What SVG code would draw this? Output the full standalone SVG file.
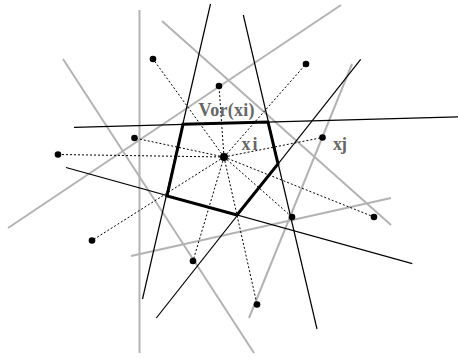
<svg xmlns="http://www.w3.org/2000/svg" width="458" height="358" viewBox="0 0 458 358">
<style>
.g{stroke:#b3b3b3;stroke-width:2;fill:none}
.b{stroke:#000;stroke-width:1.2;fill:none}
.d{stroke:#000;stroke-width:1;stroke-dasharray:2,2;fill:none}
.p{fill:#000}
.t{font-family:"Liberation Serif",serif;font-weight:bold;font-size:18px;fill:#666}
</style>
<rect width="458" height="358" fill="#fff"/>
<g id="gray-lines">
<line class="g" x1="139.5" y1="10" x2="139.5" y2="353"/>
<line class="g" x1="63" y1="59" x2="254" y2="353"/>
<line class="g" x1="162" y1="21" x2="391" y2="225"/>
<line class="g" x1="341" y1="5" x2="8" y2="228"/>
<line class="g" x1="352" y1="64" x2="249" y2="318"/>
<line class="g" x1="131" y1="256" x2="391" y2="198"/>
</g>
<g id="connectors">
<line class="d" x1="224" y1="157" x2="153" y2="59"/>
<line class="d" x1="224" y1="157" x2="219" y2="86"/>
<line class="d" x1="224" y1="157" x2="306" y2="64"/>
<line class="d" x1="224" y1="157" x2="134.5" y2="138"/>
<line class="d" x1="224" y1="157" x2="58" y2="154.5"/>
<line class="d" x1="224" y1="157" x2="322.5" y2="137.5"/>
<line class="d" x1="224" y1="157" x2="374" y2="217"/>
<line class="d" x1="224" y1="157" x2="292" y2="217"/>
<line class="d" x1="224" y1="157" x2="257" y2="304.5"/>
<line class="d" x1="224" y1="157" x2="193" y2="261"/>
<line class="d" x1="224" y1="157" x2="92" y2="240.5"/>
</g>
<g id="black-lines">
<line class="b" x1="74" y1="127.3" x2="458" y2="116.8"/>
<line class="b" x1="210.5" y1="4" x2="142.5" y2="299"/>
<line class="b" x1="243.3" y1="15" x2="317" y2="329"/>
<line class="b" x1="360.7" y1="59.3" x2="156.3" y2="318"/>
<line class="b" x1="66" y1="167.5" x2="412.3" y2="263.7"/>
</g>
<g id="vor-xi">
<polygon points="183,124.3 268,122 278,164 237,215 167,196" fill="none" stroke="#000" stroke-width="3" stroke-linejoin="miter"/>
</g>
<g id="points">
<circle class="p" cx="224" cy="157" r="4"/>
<circle class="p" cx="153" cy="59" r="3.3"/>
<circle class="p" cx="219" cy="86" r="3.3"/>
<circle class="p" cx="306" cy="64" r="3.3"/>
<circle class="p" cx="134.5" cy="138" r="3.3"/>
<circle class="p" cx="58" cy="154.5" r="3.3"/>
<circle class="p" cx="322.5" cy="137.5" r="3.3"/>
<circle class="p" cx="374" cy="217" r="3.3"/>
<circle class="p" cx="292" cy="217" r="3.3"/>
<circle class="p" cx="257" cy="304.5" r="3.3"/>
<circle class="p" cx="193" cy="261" r="3.3"/>
<circle class="p" cx="92" cy="240.5" r="3.3"/>
</g>
<g id="labels">
<text class="t" x="198.5" y="116" textLength="56" lengthAdjust="spacing">Vor(xi)</text>
<text class="t" x="241.5" y="150" textLength="16" lengthAdjust="spacing">xi</text>
<text class="t" x="333" y="150" textLength="14" lengthAdjust="spacing">xj</text>
</g>
</svg>
